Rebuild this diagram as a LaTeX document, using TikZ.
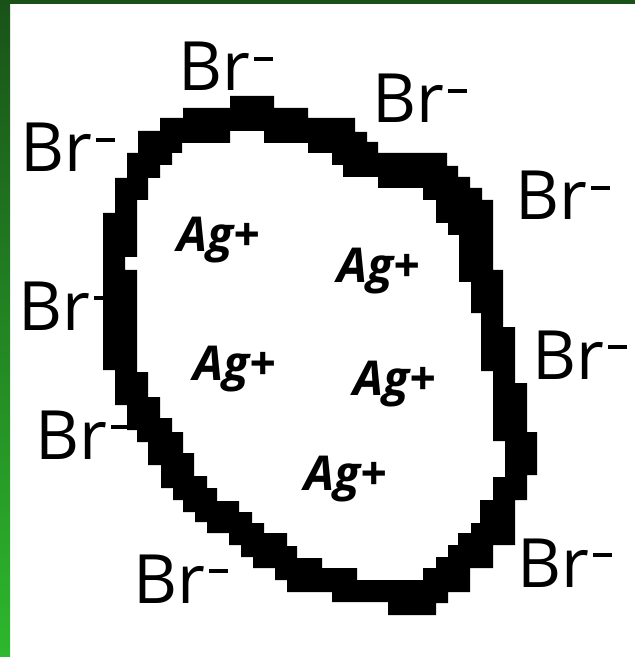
\documentclass[tikz,border=0pt]{standalone}
\usepackage{fontspec}
\setmainfont{Open Sans}
\usepackage{xcolor}
\definecolor{framedark}{RGB}{25,82,25}
\definecolor{framelight}{RGB}{45,184,45}
\newcommand{\negsup}{\kern2pt\rule[15pt]{9.5pt}{2pt}}

\begin{document}
\begin{tikzpicture}[
    x=0.5pt, y=-0.5pt,
    anion/.style={anchor=base west, inner sep=0pt, font=\fontsize{34}{40}\selectfont},
    cation/.style={anchor=base west, inner sep=0pt, font=\fontsize{24}{28}\selectfont\bfseries\itshape},
]
\useasboundingbox[fill=white] (0,0) rectangle (635,657);
\fill[framedark] (0,0) rectangle (635,4);
\shade[top color=framedark, bottom color=framelight] (0,0) rectangle (10,657);

% crystal grain outline
\fill[black, even odd rule]
  (230,96) -- (274,96) -- (274,108) -- (308,108) -- (308,118) -- (355,118) -- (355,132) -- (367,132)
  -- (367,142) -- (378,142) -- (378,153) -- (447,153) -- (447,166) -- (458,166) -- (458,177) -- (470,177)
  -- (470,188) -- (482,188) -- (482,200) -- (493,200) -- (493,270) -- (503,270) -- (503,327) -- (515,327)
  -- (515,383) -- (527,383) -- (527,432) -- (537,432) -- (537,475) -- (527,475) -- (527,500) -- (515,500)
  -- (515,545) -- (493,545) -- (493,568) -- (470,568) -- (470,592) -- (448,592) -- (448,603) -- (436,603)
  -- (436,615) -- (388,615) -- (388,602) -- (332,602) -- (332,592) -- (287,592) -- (287,580) -- (275,580)
  -- (275,568) -- (253,568) -- (253,557) -- (241,557) -- (241,545) -- (229,545) -- (229,533) -- (207,533)
  -- (207,522) -- (195,522) -- (195,512) -- (183,512) -- (183,500) -- (173,500) -- (173,488) -- (161,488)
  -- (161,465) -- (148,465) -- (148,442) -- (137,442) -- (137,430) -- (127,430) -- (127,405) -- (115,405)
  -- (115,370) -- (103,370) -- (103,213) -- (115,213) -- (115,178) -- (127,178) -- (127,153) -- (138,153)
  -- (138,131) -- (160,131) -- (160,118) -- (183,118) -- (183,108) -- (230,108) -- cycle
  (230,131) -- (264,131) -- (264,143) -- (308,143) -- (308,153) -- (332,153) -- (332,165) -- (343,165)
  -- (343,177) -- (378,177) -- (378,188) -- (423,188) -- (423,200) -- (436,200) -- (436,223) -- (448,223)
  -- (448,235) -- (459,235) -- (459,282) -- (471,282) -- (471,313) -- (481,313) -- (481,371) -- (493,371)
  -- (493,441) -- (505,441) -- (505,477) -- (493,477) -- (493,500) -- (480,500) -- (480,523) -- (471,523)
  -- (471,533) -- (458,533) -- (458,545) -- (448,545) -- (448,557) -- (436,557) -- (436,568) -- (423,568)
  -- (423,580) -- (357,580) -- (357,568) -- (322,568) -- (322,558) -- (297,558) -- (297,546) -- (287,546)
  -- (287,533) -- (264,533) -- (264,523) -- (252,523) -- (252,512) -- (239,512) -- (239,501) -- (217,501)
  -- (217,488) -- (207,488) -- (207,476) -- (194,476) -- (194,453) -- (183,453) -- (183,432) -- (172,432)
  -- (172,418) -- (160,418) -- (160,397) -- (148,397) -- (148,372) -- (137,372) -- (137,270) -- (125,270)
  -- (125,257) -- (137,257) -- (137,200) -- (148,200) -- (148,178) -- (160,178) -- (160,165) -- (172,165)
  -- (172,153) -- (182,153) -- (182,143) -- (230,143) -- cycle;

% bromide ions round the grain
\node[anion] (brtop)   at (178,91)  {Br\negsup};
\node[anion] (brtopr)  at (372,123) {Br\negsup};
\node[anion] (brtopl)  at (20,172)  {Br\negsup};
\node[anion] (brright) at (515,220) {Br\negsup};
\node[anion] (brleft)  at (18,330)  {Br\negsup};
\node[anion] (brmidr)  at (532,379) {Br\negsup};
\node[anion] (brlowl)  at (35,459)  {Br\negsup};
\node[anion] (brlowr)  at (517,587) {Br\negsup};
\node[anion] (brbot)   at (133,603) {Br\negsup};

% silver ions inside
\node[cation] (ag1) at (177,252) {Ag+};
\node[cation] (ag2) at (337,283) {Ag+};
\node[cation] (ag3) at (193,380) {Ag+};
\node[cation] (ag4) at (353,395) {Ag+};
\node[cation] (ag5) at (304,490) {Ag+};
\end{tikzpicture}
\end{document}
